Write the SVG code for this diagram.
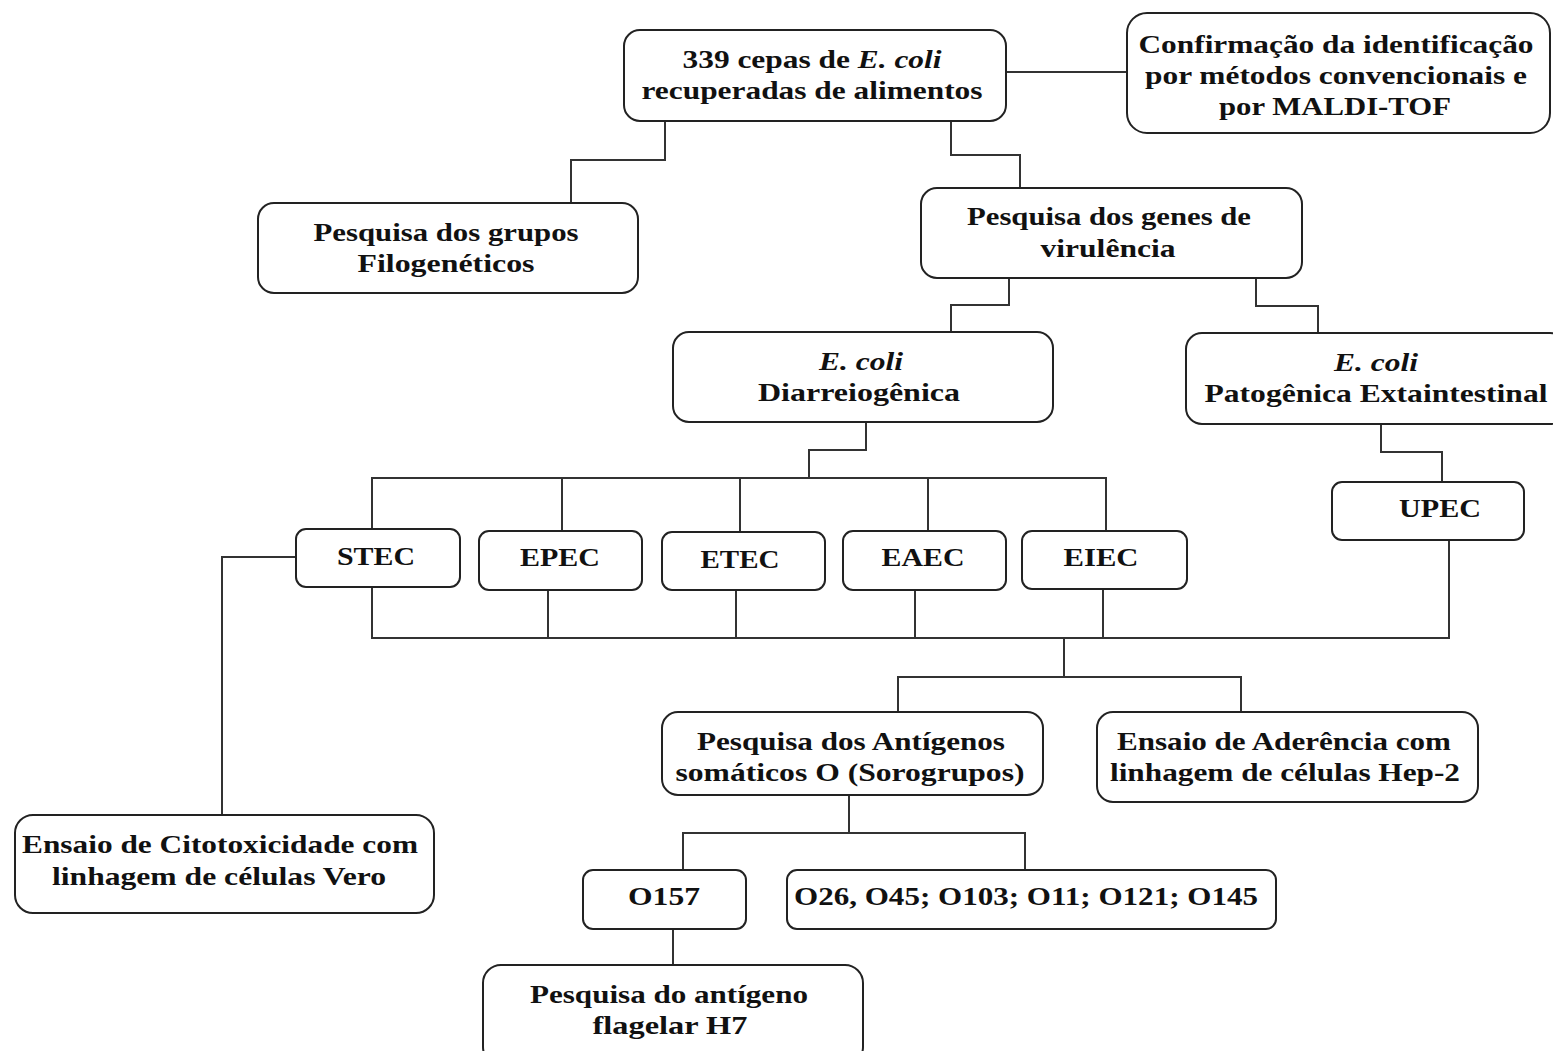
<svg xmlns="http://www.w3.org/2000/svg" width="1553" height="1051" viewBox="0 0 1553 1051">
<style>
.box{fill:#fff;stroke:#222;stroke-width:2}
.t{font-family:"Liberation Serif","Times New Roman",serif;font-weight:bold;font-size:25px;fill:#111;text-anchor:middle}
.i{font-style:italic}
.c{fill:none;stroke:#333;stroke-width:2}
</style>
<rect width="1553" height="1051" fill="#fff"/>
<g id="connectors">
<path class="c" d="M1006 72H1127"/>
<path class="c" d="M665 121V160H571V203"/>
<path class="c" d="M951 121V155H1020V188"/>
<path class="c" d="M1009 278V305H951V332"/>
<path class="c" d="M1256 278V306H1318V333"/>
<path class="c" d="M866 422V450H809V478"/>
<path class="c" d="M372 530V478H1106V531M562 478V531M740 478V532M928 478V531"/>
<path class="c" d="M1381 424V452H1442V482"/>
<path class="c" d="M372 587V638H1449V540M548 590V638M736 590V638M915 590V638M1103 589V638"/>
<path class="c" d="M1064 638V677M898 712V677H1241V712"/>
<path class="c" d="M296 557H222V815"/>
<path class="c" d="M849 795V833M683 870V833H1025V870"/>
<path class="c" d="M673 929V965"/>
</g>
<g id="n-cepas">
<rect class="box" x="624" y="30" width="382" height="91" rx="16"/>
<text class="t" x="812" y="68" textLength="259" lengthAdjust="spacingAndGlyphs">339 cepas de <tspan class="i">E. coli</tspan></text>
<text class="t" x="812" y="99" textLength="341" lengthAdjust="spacingAndGlyphs">recuperadas de alimentos</text>
</g>
<g id="n-confirmacao">
<rect class="box" x="1127" y="13" width="423" height="120" rx="20"/>
<text class="t" x="1336" y="53" textLength="395" lengthAdjust="spacingAndGlyphs">Confirmação da identificação</text>
<text class="t" x="1336" y="84" textLength="382" lengthAdjust="spacingAndGlyphs">por métodos convencionais e</text>
<text class="t" x="1335" y="115" textLength="232" lengthAdjust="spacingAndGlyphs">por MALDI-TOF</text>
</g>
<g id="n-grupos">
<rect class="box" x="258" y="203" width="380" height="90" rx="16"/>
<text class="t" x="446" y="241" textLength="265" lengthAdjust="spacingAndGlyphs">Pesquisa dos grupos</text>
<text class="t" x="446" y="272" textLength="177" lengthAdjust="spacingAndGlyphs">Filogenéticos</text>
</g>
<g id="n-genes">
<rect class="box" x="921" y="188" width="381" height="90" rx="16"/>
<text class="t" x="1109" y="225" textLength="284" lengthAdjust="spacingAndGlyphs">Pesquisa dos genes de</text>
<text class="t" x="1108" y="257" textLength="135" lengthAdjust="spacingAndGlyphs">virulência</text>
</g>
<g id="n-diarreio">
<rect class="box" x="673" y="332" width="380" height="90" rx="16"/>
<text class="t i" x="861" y="370" textLength="84" lengthAdjust="spacingAndGlyphs">E. coli</text>
<text class="t" x="859" y="401" textLength="202" lengthAdjust="spacingAndGlyphs">Diarreiogênica</text>
</g>
<g id="n-patogenica">
<rect class="box" x="1186" y="333" width="380" height="91" rx="16"/>
<text class="t i" x="1376" y="371" textLength="84" lengthAdjust="spacingAndGlyphs">E. coli</text>
<text class="t" x="1376" y="402" textLength="343" lengthAdjust="spacingAndGlyphs">Patogênica Extaintestinal</text>
</g>
<g id="n-stec">
<rect class="box" x="296" y="529" width="164" height="58" rx="10"/>
<text class="t" x="376" y="565" textLength="78" lengthAdjust="spacingAndGlyphs">STEC</text>
</g>
<g id="n-epec">
<rect class="box" x="479" y="531" width="163" height="59" rx="10"/>
<text class="t" x="560" y="566" textLength="80" lengthAdjust="spacingAndGlyphs">EPEC</text>
</g>
<g id="n-etec">
<rect class="box" x="662" y="532" width="163" height="58" rx="10"/>
<text class="t" x="740" y="568" textLength="79" lengthAdjust="spacingAndGlyphs">ETEC</text>
</g>
<g id="n-eaec">
<rect class="box" x="843" y="531" width="163" height="59" rx="10"/>
<text class="t" x="923" y="566" textLength="83" lengthAdjust="spacingAndGlyphs">EAEC</text>
</g>
<g id="n-eiec">
<rect class="box" x="1022" y="531" width="165" height="58" rx="10"/>
<text class="t" x="1101" y="566" textLength="75" lengthAdjust="spacingAndGlyphs">EIEC</text>
</g>
<g id="n-upec">
<rect class="box" x="1332" y="482" width="192" height="58" rx="10"/>
<text class="t" x="1440" y="517" textLength="82" lengthAdjust="spacingAndGlyphs">UPEC</text>
</g>
<g id="n-antigenos">
<rect class="box" x="662" y="712" width="381" height="83" rx="16"/>
<text class="t" x="851" y="750" textLength="308" lengthAdjust="spacingAndGlyphs">Pesquisa dos Antígenos</text>
<text class="t" x="850" y="781" textLength="349" lengthAdjust="spacingAndGlyphs">somáticos O (Sorogrupos)</text>
</g>
<g id="n-aderencia">
<rect class="box" x="1097" y="712" width="381" height="90" rx="16"/>
<text class="t" x="1284" y="750" textLength="334" lengthAdjust="spacingAndGlyphs">Ensaio de Aderência com</text>
<text class="t" x="1285" y="781" textLength="350" lengthAdjust="spacingAndGlyphs">linhagem de células Hep-2</text>
</g>
<g id="n-citotox">
<rect class="box" x="15" y="815" width="419" height="98" rx="18"/>
<text class="t" x="220" y="853" textLength="396" lengthAdjust="spacingAndGlyphs">Ensaio de Citotoxicidade com</text>
<text class="t" x="219" y="885" textLength="334" lengthAdjust="spacingAndGlyphs">linhagem de células Vero</text>
</g>
<g id="n-o157">
<rect class="box" x="583" y="870" width="163" height="59" rx="10"/>
<text class="t" x="664" y="905" textLength="72" lengthAdjust="spacingAndGlyphs">O157</text>
</g>
<g id="n-outros">
<rect class="box" x="787" y="870" width="489" height="59" rx="10"/>
<text class="t" x="1026" y="905" textLength="464" lengthAdjust="spacingAndGlyphs">O26, O45; O103; O11; O121; O145</text>
</g>
<g id="n-h7">
<rect class="box" x="483" y="965" width="380" height="100" rx="18"/>
<text class="t" x="669" y="1003" textLength="278" lengthAdjust="spacingAndGlyphs">Pesquisa do antígeno</text>
<text class="t" x="670" y="1034" textLength="155" lengthAdjust="spacingAndGlyphs">flagelar H7</text>
</g>
</svg>
